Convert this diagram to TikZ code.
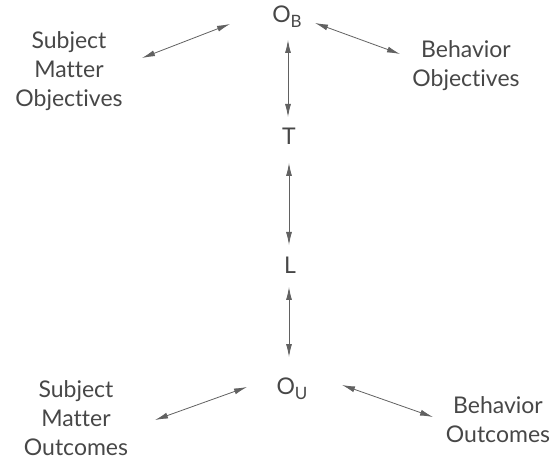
\documentclass[tikz,border=0pt]{standalone}
\usepackage{fontspec}
\setmainfont{Lato}[Ligatures={NoCommon,NoRequired,NoContextual},Contextuals=NoAlternate]
\usetikzlibrary{arrows.meta,calc}

\newcommand{\lowsub}[1]{\raisebox{-0.45ex}{\fontsize{17}{17}\selectfont #1}}

\tikzset{
  lbl/.style={inner sep=0pt, text=black!72, font=\fontsize{23}{29}\selectfont, align=center},
  biarrow/.style={{Latex[length=13pt,width=6pt]}-{Latex[length=13pt,width=6pt]}, line width=.8pt, draw=black!62}
}

\begin{document}
\begin{tikzpicture}[x=1pt,y=1pt]
    \useasboundingbox (0,0) rectangle (557,461);

    % the central chain
    \node[lbl] (ob) at (287,444) {O\lowsub{B}};
    \node[lbl] (t)  at (289,325) {T};
    \node[lbl] (l)  at (290,196) {L};
    \node[lbl] (ou) at (292,72)  {O\lowsub{U}};

    % side labels
    \node[lbl] (smo) at (69,390)  {Subject\\Matter\\Objectives};
    \node[lbl] (bo)  at (466,395) {Behavior\\Objectives};
    \node[lbl] (smu) at (76,43)   {Subject\\Matter\\Outcomes};
    \node[lbl] (bu)  at (498,41)  {Behavior\\Outcomes};

    \draw[biarrow] ($(ob)+(1,-23)$) -- ($(t)+(-1,19)$);
    \draw[biarrow] ($(t)+(0,-27)$) -- ($(l)+(-1,20)$);
    \draw[biarrow] ($(l)+(-1,-22)$) -- ($(ou)+(-3,32)$);

    \draw[biarrow] ($(smo)+(73,13)$) -- ($(ob)+(-57,-7)$);
    \draw[biarrow] ($(ob)+(28,-6)$) -- ($(bo)+(-66,12)$);
    \draw[biarrow] ($(smu)+(79,-2)$) -- ($(ou)+(-45,2)$);
    \draw[biarrow] ($(ou)+(50,4)$) -- ($(bu)+(-65,3)$);
\end{tikzpicture}
\end{document}
